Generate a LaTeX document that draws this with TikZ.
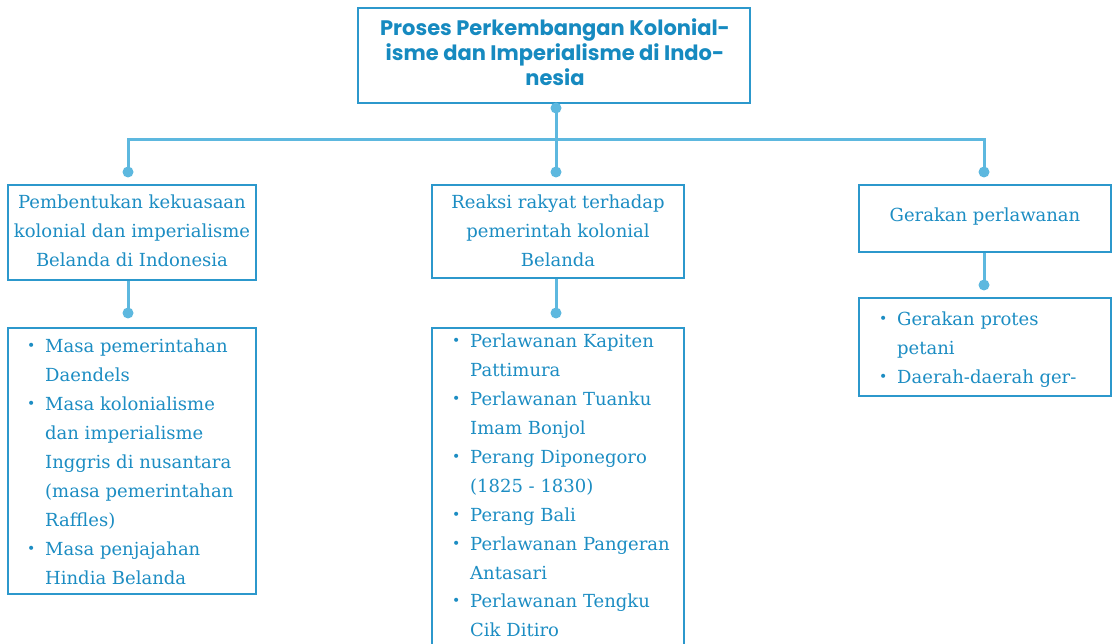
\documentclass[tikz,border=0pt]{standalone}
\usepackage{fontspec}
\setmainfont{DejaVu Serif}
\newfontfamily\titlefont{Poppins}
\definecolor{txt}{HTML}{1C8DC3}
\definecolor{ttl}{HTML}{168AC0}
\definecolor{brd}{HTML}{2C98CC}
\definecolor{con}{HTML}{5DB8DF}
\newcommand{\bul}{\makebox[18pt][l]{\raisebox{2pt}{\fontsize{14}{14}\selectfont •}}}
\newcommand{\ind}{\hspace*{18pt}}
\tikzset{
  box/.style={draw=brd, line width=1.4pt, inner sep=0pt, fill=white},
  conn/.style={draw=con, line width=3pt, line join=miter},
  dotfill/.style={fill=con},
  bodytext/.style={text=txt, inner sep=0pt, font=\fontsize{18}{28.9}\selectfont},
  titletext/.style={text=ttl, inner sep=0pt, align=center, font=\titlefont\bfseries\fontsize{21}{25}\selectfont}
}
\begin{document}
\begin{tikzpicture}[x=1pt,y=-1pt]
\useasboundingbox (0,0) rectangle (1117,644);
\clip (0,0) rectangle (1117,644);
% boxes
\node[box, minimum width=392pt, minimum height=95pt] (title) at (554,55.5) {};
\node[box, minimum width=248pt, minimum height=95pt] (b1) at (132,232.5) {};
\node[box, minimum width=252pt, minimum height=93pt] (b2) at (558,231.5) {};
\node[box, minimum width=252pt, minimum height=67pt] (b3) at (985,218.5) {};
\node[box, minimum width=248pt, minimum height=266pt] (l1) at (132,461) {};
\node[box, minimum width=252pt, minimum height=340pt] (l2) at (558,498) {};
\node[box, minimum width=252pt, minimum height=98pt] (l3) at (985,347) {};
% texts
\node[titletext] (tt) at (555,52.5) {Proses Perkembangan Kolonial-\\isme dan Imperialisme di Indo-\\nesia};
\node[bodytext, align=center] (t1) at (132,231) {Pembentukan kekuasaan\\kolonial dan imperialisme\\Belanda di Indonesia};
\node[bodytext, align=center] (t2) at (558,231) {Reaksi rakyat terhadap\\pemerintah kolonial\\Belanda};
\node[bodytext, align=center] (t3) at (985,217) {Gerakan perlawanan};
\node[bodytext, align=left, anchor=north west] (s1) at (27,339) {\bul Masa pemerintahan\\\ind Daendels\\\bul Masa kolonialisme\\\ind dan imperialisme\\\ind Inggris di nusantara\\\ind (masa pemerintahan\\\ind Raffles)\\\bul Masa penjajahan\\\ind Hindia Belanda};
\node[bodytext, align=left, anchor=north west] (s2) at (452,334) {\bul Perlawanan Kapiten\\\ind Pattimura\\\bul Perlawanan Tuanku\\\ind Imam Bonjol\\\bul Perang Diponegoro\\\ind (1825 - 1830)\\\bul Perang Bali\\\bul Perlawanan Pangeran\\\ind Antasari\\\bul Perlawanan Tengku\\\ind Cik Ditiro};
\node[bodytext, align=left, anchor=north west] (s3) at (879,312) {\bul Gerakan protes\\\ind petani\\\bul Daerah-daerah ger-};
% connector points
\coordinate (dT) at (556,108);
\coordinate (jL) at (128,140);
\coordinate (jR) at (984,140);
\coordinate (d1) at (128,172);
\coordinate (d2) at (556,172);
\coordinate (d3) at (984,172);
\coordinate (e1) at (128,313);
\coordinate (e2) at (556,313);
\coordinate (e3) at (984,285);
% connectors
\draw[conn] (title.south -| dT) -- (d2);
\draw[conn] (d1) -- (jL) -- (jR) -- (d3);
\draw[conn] (b1.south -| e1) -- (e1);
\draw[conn] (b2.south -| e2) -- (e2);
\draw[conn] (b3.south -| e3) -- (e3);
\foreach \p in {dT,d1,d2,d3,e1,e2,e3} \fill[dotfill] (\p) circle (5.5);
\end{tikzpicture}
\end{document}
